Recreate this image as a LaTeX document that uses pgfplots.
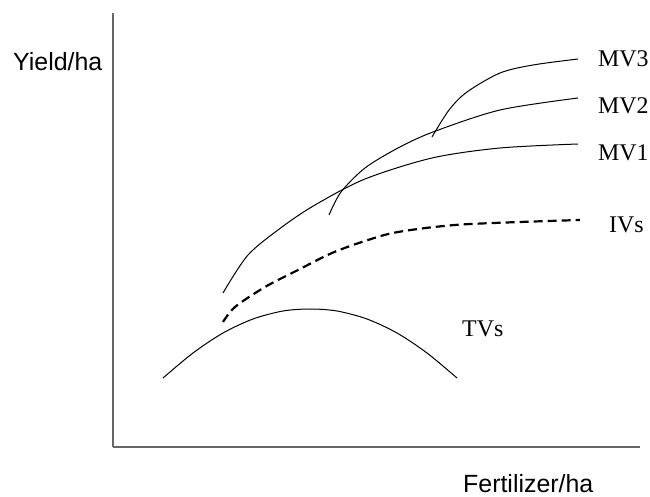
\documentclass[border=0pt]{standalone}
\usepackage{pgfplots}
\pgfplotsset{compat=1.18}
\usepackage{fontspec}
\setmainfont{Liberation Serif}
\setsansfont{Liberation Sans}
\begin{document}
\begin{tikzpicture}
\begin{axis}[
  x=1bp, y=1bp,
  xmin=0, xmax=527, ymin=0, ymax=434,
  axis lines*=left,
  xtick=\empty, ytick=\empty,
  axis line style={draw=black!60, line width=1.2bp},
  clip=false,
]
\path (axis cs:-113,-50) rectangle (axis cs:537,447);
% MV1
\addplot[smooth, no marks, black, line width=1bp] coordinates {
 (110,154) (135,192) (169,220) (202,242) (252,268) (319,289) (387,299) (465,303)};
% MV2
\addplot[smooth, no marks, black, line width=1bp] coordinates {
 (216,232) (228,255) (252,279) (285,299) (320,315) (387,337) (465,349)};
% MV3
\addplot[smooth, no marks, black, line width=1bp] coordinates {
 (319,310) (336,337) (354,355) (387,374) (420,382) (465,388)};
% IVs
\addplot[smooth, no marks, black, line width=2.2bp, dash pattern=on 9bp off 5bp] coordinates {
 (110,125) (122,140) (152,160) (185,177) (219,194) (252,206)
 (285,215) (349,222.5) (467,227)};
% TVs
\addplot[smooth, no marks, black, line width=1bp] coordinates {
 (50,69) (80,94) (110,114) (140,128) (170,136) (197,138) (224,136)
 (254,128) (284,114) (314,94) (344,69)};
\node[anchor=base west, inner sep=0pt, font=\sffamily\fontsize{25}{29}\selectfont] at (axis cs:-100,376) {Yield/ha};
\node[anchor=base west, inner sep=0pt, font=\sffamily\fontsize{25}{29}\selectfont] at (axis cs:350,-46) {Fertilizer/ha};
\node[anchor=base west, inner sep=0pt, font=\fontsize{24}{28}\selectfont] at (axis cs:485,380) {MV3};
\node[anchor=base west, inner sep=0pt, font=\fontsize{24}{28}\selectfont] at (axis cs:485,333) {MV2};
\node[anchor=base west, inner sep=0pt, font=\fontsize{24}{28}\selectfont] at (axis cs:485,286) {MV1};
\node[anchor=base west, inner sep=0pt, font=\fontsize{24}{28}\selectfont] at (axis cs:496,214) {IVs};
\node[anchor=base west, inner sep=0pt, font=\fontsize{24}{28}\selectfont] at (axis cs:349,110) {TVs};
\end{axis}
\end{tikzpicture}
\end{document}
